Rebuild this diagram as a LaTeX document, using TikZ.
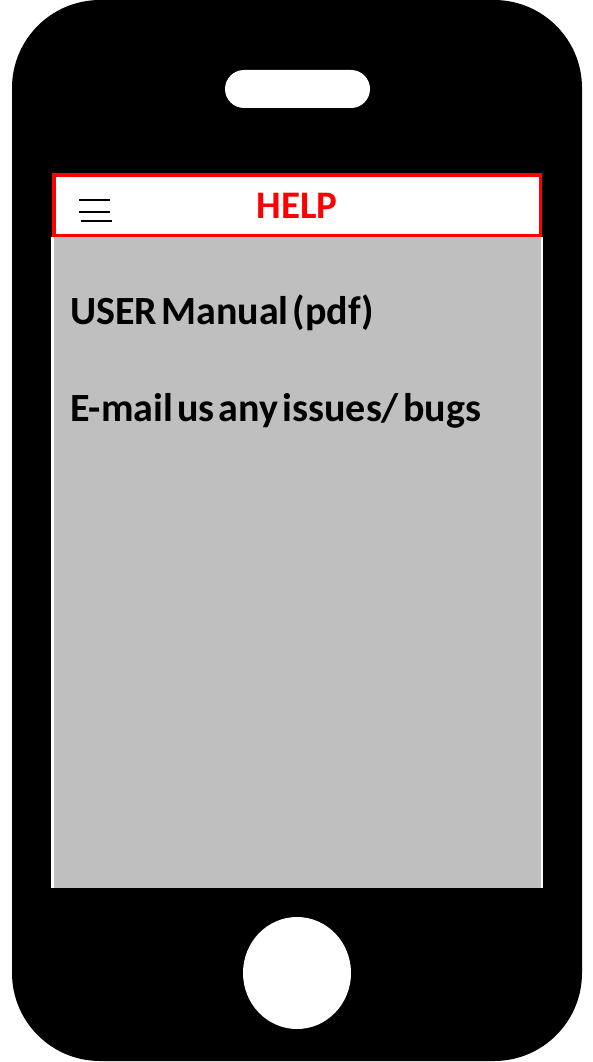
\documentclass[tikz,border=0pt]{standalone}
\usepackage{fontspec}
\setmainfont{Carlito}
\definecolor{screengray}{HTML}{BFBFBF}
\definecolor{helpred}{HTML}{FF0000}
\newcommand\tightspaces{\spaceskip=4.2pt\relax}
\begin{document}
\begin{tikzpicture}[x=1pt,y=-1pt,
  label/.style={inner sep=0pt,font=\bfseries\fontsize{40}{48}\selectfont,execute at begin node=\tightspaces,anchor=base west},
  burger/.style={line width=2pt,black}]
\useasboundingbox (0,0) rectangle (593,1062);
% phone body
\fill[black,rounded corners=88pt] (12,0) rectangle (582,1061);
% speaker
\fill[white,rounded corners=19pt] (225,70) rectangle (370,108);
% home button
\fill[white] (297,973) ellipse [x radius=54, y radius=56];
% screen
\fill[white] (51,237) rectangle (543,888);
\fill[screengray] (54,237) rectangle (541,888);
% header
\draw[helpred,line width=3.5pt,fill=white] (53.75,174.75) rectangle (540.25,235.25);
\draw[burger] (79,200) -- (110,200);
\draw[burger] (79,212) -- (110,212);
\draw[burger] (81,221) -- (112,221);
\node[inner sep=0pt,anchor=base,text=helpred,font=\bfseries\fontsize{39}{46}\selectfont] (help) at (297,218) {HELP};
% items
\node[label] (manual) at (70,324) {USER Manual (pdf)};
\node[label] (email) at (70,421) {E-mail us any issues/ bugs};
\end{tikzpicture}
\end{document}
